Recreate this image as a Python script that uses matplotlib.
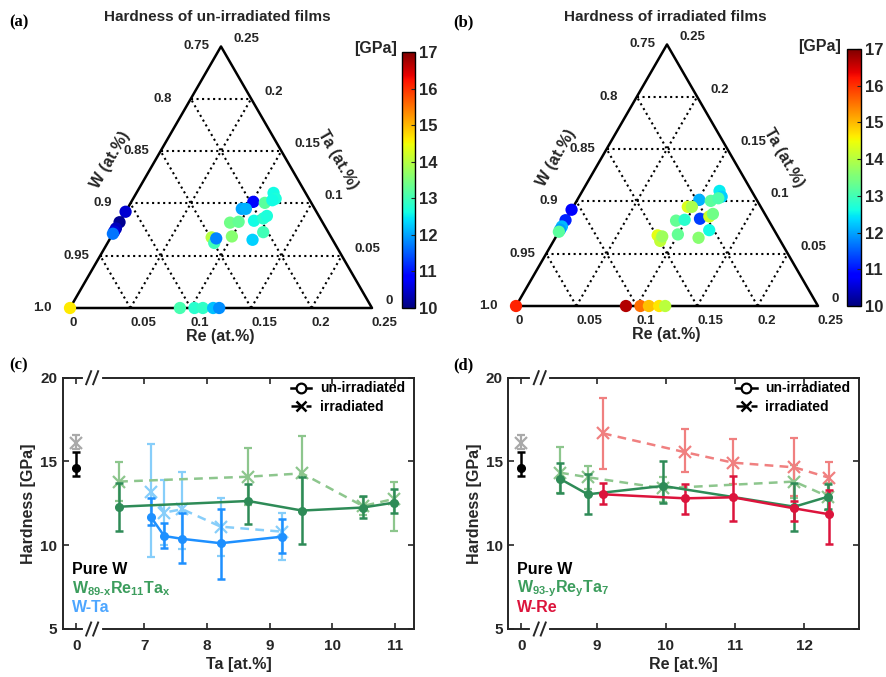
import numpy as np
import matplotlib.pyplot as plt
import matplotlib.transforms as mtransforms
from matplotlib import cm, colors
from matplotlib.lines import Line2D

plt.rcParams['font.family'] = ['Liberation Sans', 'DejaVu Sans']
plt.rcParams['font.weight'] = 'bold'
plt.rcParams['axes.labelweight'] = 'bold'
plt.rcParams['mathtext.fontset'] = 'custom'
plt.rcParams['mathtext.rm'] = 'Liberation Sans:bold'
plt.rcParams['mathtext.bf'] = 'Liberation Sans:bold'
plt.rcParams['mathtext.default'] = 'rm'

# ---------------- ternary data (atomic fractions, hardness in GPa) ----------------
pure_w_h = [14.63, 16.12]           # un-irradiated, irradiated

wta_ta = [0.092, 0.082, 0.076, 0.073, 0.071]
wta_h_un = [10.51, 10.12, 10.38, 10.55, 11.67]
wta_h_irr = [10.81, 11.11, 12.15, 11.95, 13.2]

wre_re = [0.091, 0.103, 0.110, 0.1185, 0.1235]
wre_h_un = [13.04, 12.8, 12.86, 12.2, 11.85]
wre_h_irr = [16.68, 15.55, 14.93, 14.65, 14.03]

tern_re = [0.101, 0.1135, 0.118, 0.111, 0.116, 0.0948, 0.0982, 0.0917, 0.0984,
           0.1106, 0.1172, 0.119, 0.1237, 0.1185, 0.0998, 0.0835, 0.0883, 0.0878]
tern_ta = [0.1015, 0.110, 0.1045, 0.1005, 0.103, 0.0948, 0.0948, 0.0816, 0.0824,
           0.0834, 0.0856, 0.088, 0.0725, 0.0652, 0.0684, 0.0675, 0.0622, 0.0665]
tern_h_un = [10.9, 12.6, 12.7, 13.2, 12.6, 12.0, 12.1, 13.4, 13.3,
             12.6, 12.8, 12.7, 13.0, 12.3, 13.6, 14.0, 13.0, 11.8]
tern_h_irr = [12.1, 12.5, 12.3, 13.2, 13.1, 14.3, 13.9, 13.3, 12.8,
              11.3, 14.2, 13.4, 12.6, 13.6, 13.3, 14.4, 14.1, 13.8]

# ---------------- panel (c): vs Ta ----------------
purew_un = 14.63
purew_un_err = [0.5, 0.95]
purew_irr = 16.12
purew_irr_err = [0.4, 0.46]

c_ta_ternary = [6.6, 8.66, 9.52, 10.49, 10.98]
c_tern_un = [12.3, 12.64, 12.07, 12.25, 12.54]
c_tern_un_lo = [1.43, 1.37, 1.99, 0.6, 0.59]
c_tern_un_hi = [1.43, 1.02, 2.02, 0.69, 0.82]
c_tern_irr = [13.8, 14.09, 14.29, 12.34, 12.76]
c_tern_irr_lo = [1.15, 1.7, 2.2, 0.55, 1.89]
c_tern_irr_hi = [1.15, 1.7, 2.23, 0.55, 1.0]

c_ta_wta = [7.11, 7.32, 7.61, 8.22, 9.2]
c_wta_un = [11.67, 10.55, 10.38, 10.12, 10.51]
c_wta_un_lo = [0.48, 0.73, 1.42, 2.15, 0.95]
c_wta_un_hi = [1.13, 0.75, 1.57, 2.03, 1.08]
c_wta_irr = [13.2, 11.95, 12.15, 11.11, 10.81]
c_wta_irr_lo = [3.88, 1.95, 2.35, 1.75, 1.7]
c_wta_irr_hi = [2.84, 1.95, 2.24, 1.69, 1.1]

# ---------------- panel (d): vs Re ----------------
d_re_ternary = [8.47, 8.87, 9.96, 11.86, 12.35]
d_tern_un = [13.96, 13.04, 13.54, 12.3, 12.9]
d_tern_un_lo = [0.86, 1.17, 1.0, 1.43, 0.75]
d_tern_un_hi = [0.97, 1.2, 1.51, 1.4, 0.75]
d_tern_irr = [14.33, 14.06, 13.4, 13.8, 12.9]
d_tern_irr_lo = [1.2, 0.7, 0.8, 1.0, 0.8]
d_tern_irr_hi = [1.55, 0.67, 0.66, 1.0, 0.8]

d_re_wre = [9.09, 10.28, 10.97, 11.86, 12.36]
d_wre_un = [13.04, 12.8, 12.86, 12.2, 11.85]
d_wre_un_lo = [0.58, 0.95, 1.39, 0.73, 1.79]
d_wre_un_hi = [0.7, 0.84, 1.29, 0.46, 1.45]
d_wre_irr = [16.68, 15.55, 14.93, 14.65, 14.03]
d_wre_irr_lo = [2.1, 1.16, 1.3, 1.7, 0.93]
d_wre_irr_hi = [2.09, 1.37, 1.39, 1.73, 0.92]

# ---------------- layout helpers ----------------
FW, FH = 886, 677
fig = plt.figure(figsize=(FW / 100, FH / 100), dpi=100)
SQ = np.sqrt(3) / 2
norm = colors.Normalize(10, 17)
cmap = plt.get_cmap('jet')
TXT = '#262626'


def px_axes(x0, y0, x1, y1):
    return fig.add_axes([x0 / FW, 1 - y1 / FH, (x1 - x0) / FW, (y1 - y0) / FH])


def tern_xy(re, ta):
    u = np.asarray(re) / 0.25
    v = np.asarray(ta) / 0.25
    return u + v / 2, v * SQ


def off(ax, dx, dy):
    return mtransforms.offset_copy(ax.transData, fig=fig, x=dx, y=dy, units='dots')


def draw_ternary(ax, h_pure, h_wta, h_wre, h_mid):
    ax.set_xlim(0, 1)
    ax.set_ylim(0, SQ)
    ax.axis('off')
    for k in range(1, 5):
        c = k / 5
        kw = dict(color='k', ls=':', lw=1.5, zorder=1)
        ax.plot([c / 2, 1 - c / 2], [c * SQ, c * SQ], **kw)
        ax.plot([c, c + (1 - c) / 2], [0, (1 - c) * SQ], **kw)
        ax.plot([c, c / 2], [0, c * SQ], **kw)
    ax.plot([0, 1, 0.5, 0], [0, 0, SQ, 0], color='k', lw=1.8, clip_on=False, zorder=2)

    w_lab = ['1.0', '0.95', '0.9', '0.85', '0.8', '0.75']
    ta_lab = ['0', '0.05', '0.1', '0.15', '0.2', '0.25']
    re_lab = ['0', '0.05', '0.1', '0.15', '0.2', '0.25']
    for k in range(6):
        v = k / 5
        ax.text(v / 2, v * SQ, w_lab[k], transform=off(ax, -37, 0), ha='left', va='center',
                fontsize=9.5, color=TXT)
        ax.text(1 - v / 2, v * SQ, ta_lab[k], transform=off(ax, 13, 7), ha='left', va='center',
                fontsize=9.5, color=TXT)
        ax.text(v, 0, re_lab[k], transform=off(ax, 0, -15), ha='left', va='center',
                fontsize=9.5, color=TXT)
    ax.text(0.132, 0.49, 'W (at.%)', rotation=60, ha='center', va='center', fontsize=11.5, color=TXT)
    ax.text(0.887, 0.49, 'Ta (at.%)', rotation=-60, ha='center', va='center', fontsize=11.5, color=TXT)
    ax.text(0.497, -0.096, 'Re (at.%)', ha='center', va='center', fontsize=11.5, color=TXT)

    kw = dict(cmap=cmap, norm=norm, s=78, edgecolors='none', clip_on=False, zorder=3)
    x, y = tern_xy([0], [0])
    ax.scatter(x, y, c=[h_pure], **kw)
    x, y = tern_xy(np.zeros(len(wta_ta)), wta_ta)
    ax.scatter(x, y, c=h_wta, **kw)
    x, y = tern_xy(wre_re, np.zeros(len(wre_re)))
    ax.scatter(x, y, c=h_wre, **kw)
    x, y = tern_xy(tern_re, tern_ta)
    ax.scatter(x, y, c=h_mid, **kw)


def draw_cbar(cax, xlab, ylab):
    sm = cm.ScalarMappable(norm=norm, cmap=cmap)
    cb = fig.colorbar(sm, cax=cax, ticks=range(10, 18))
    cb.outline.set_linewidth(1.0)
    cb.ax.tick_params(direction='in', length=3, labelsize=12, pad=3, colors=TXT)
    fig.text(xlab / FW, 1 - ylab / FH, '[GPa]', ha='center', va='center', fontsize=11.5, color=TXT)


# ---------------- panel (a) and (b) ----------------
ax_a = px_axes(70, 308 - 302 * SQ, 372, 308)
draw_ternary(ax_a, pure_w_h[0], wta_h_un, wre_h_un, tern_h_un)
draw_cbar(px_axes(402, 52, 415, 308), 376, 48)
fig.text(217 / FW, 1 - 17 / FH, 'Hardness of un-irradiated films', ha='center', va='center',
         fontsize=11, color=TXT)

ax_b = px_axes(516, 306 - 302 * SQ, 818, 306)
draw_ternary(ax_b, pure_w_h[1], wta_h_irr, wre_h_irr, tern_h_irr)
draw_cbar(px_axes(847, 49, 861, 306), 820, 46)
fig.text(665 / FW, 1 - 17 / FH, 'Hardness of irradiated films', ha='center', va='center',
         fontsize=11, color=TXT)

# ---------------- panels (c) and (d) ----------------
DG, LG = '#2e8b57', '#8dc68d'
BL, LB = '#1e90ff', '#87cefa'
RD, LR = '#dc143c', '#f08080'
DASH = (0, (3.5, 2.5))


def eb(ax, x, y, lo, hi, col, irr, z):
    if irr:
        ax.errorbar(x, y, yerr=[lo, hi], color=col, ls=DASH, marker='x', ms=8, mew=1.6,
                    lw=1.8, elinewidth=1.6, capsize=3, capthick=1.6, zorder=z)
    else:
        ax.errorbar(x, y, yerr=[lo, hi], color=col, ls='-', marker='o', ms=5.5,
                    lw=1.8, elinewidth=1.8, capsize=3, capthick=1.8, zorder=z)


def setup_line_axes(ax, xlim, wpos, ticks, brk, ppu, xlabel):
    ax.set_xlim(*xlim)
    ax.set_ylim(5, 20)
    ax.set_yticks([5, 10, 15, 20])
    ax.set_xticks([wpos] + ticks)
    ax.set_xticklabels(['0'] + [str(t) for t in ticks])
    ax.tick_params(direction='in', top=True, right=True, length=4, width=1.2,
                   labelsize=11, colors=TXT)
    ax.tick_params(axis='x', pad=7)
    ax.tick_params(axis='y', pad=4)
    for s in ax.spines.values():
        s.set_linewidth(1.4)
        s.set_color(TXT)
    ax.set_ylabel('Hardness [GPa]', fontsize=11.5, color=TXT, labelpad=3)
    ax.set_xlabel(xlabel, fontsize=11.5, color=TXT, labelpad=3)
    tr = mtransforms.blended_transform_factory(ax.transData, ax.transAxes)
    hh = 6.5 / 251.3
    for yb in (0, 1):
        ax.plot([brk - 7.5 / ppu, brk + 7.5 / ppu], [yb, yb], color='white', lw=3,
                transform=tr, clip_on=False, zorder=6)
        for a in (-6, 1):
            ax.plot([brk + a / ppu, brk + (a + 5) / ppu], [yb - hh, yb + hh], color=TXT,
                    lw=1.4, transform=tr, clip_on=False, zorder=7)
    handles = [Line2D([], [], color='k', ls='-', marker='o', mfc='white', mec='k', ms=7,
                      mew=1.6, lw=1.8),
               Line2D([], [], color='k', ls=DASH, marker='x', ms=7, mew=1.8, lw=1.8)]
    ax.legend(handles, ['un-irradiated', 'irradiated'], loc='upper left',
              bbox_to_anchor=(0.648, 0.985), frameon=False, fontsize=10, handlelength=1.5,
              handletextpad=0.6, borderpad=0, labelspacing=0.3, borderaxespad=0)


def pure_w(ax, wpos):
    ax.errorbar([wpos], [purew_irr], yerr=[[purew_irr_err[0]], [purew_irr_err[1]]], color='#a9a9a9',
                marker='x', ms=8, mew=1.6, elinewidth=1.6, capsize=3, capthick=1.6, zorder=3)
    ax.errorbar([wpos], [purew_un], yerr=[[purew_un_err[0]], [purew_un_err[1]]], color='k',
                marker='o', ms=5.5, elinewidth=1.8, capsize=3, capthick=1.8, zorder=4)


# (c)
ax_c = px_axes(62.7, 377.7, 414.3, 629)
c_wpos = 5.92
setup_line_axes(ax_c, (5.7, 11.31), c_wpos, [7, 8, 9, 10, 11], 6.17, 62.7, 'Ta [at.%]')
eb(ax_c, c_ta_ternary, c_tern_irr, c_tern_irr_lo, c_tern_irr_hi, LG, True, 2)
eb(ax_c, c_ta_wta, c_wta_irr, c_wta_irr_lo, c_wta_irr_hi, LB, True, 2)
eb(ax_c, c_ta_ternary, c_tern_un, c_tern_un_lo, c_tern_un_hi, DG, False, 3)
eb(ax_c, c_ta_wta, c_wta_un, c_wta_un_lo, c_wta_un_hi, BL, False, 3)
pure_w(ax_c, c_wpos)
ax_c.text(0.026, 0.238, 'Pure W', transform=ax_c.transAxes, fontsize=11.5, color='k', va='center')
ax_c.text(0.026, 0.162, r'W$_{89\text{-}x}$Re$_{11}$Ta$_{x}$', transform=ax_c.transAxes,
          fontsize=11.5, color='#3c9d5d', va='center')
ax_c.text(0.026, 0.086, 'W-Ta', transform=ax_c.transAxes, fontsize=11.5, color='#4da6ff', va='center')

# (d)
ax_d = px_axes(508.3, 377.7, 859.3, 629)
d_wpos = 7.91
setup_line_axes(ax_d, (7.72, 12.8), d_wpos, [9, 10, 11, 12], 8.175, 69.2, 'Re [at.%]')
eb(ax_d, d_re_ternary, d_tern_irr, d_tern_irr_lo, d_tern_irr_hi, LG, True, 2)
eb(ax_d, d_re_wre, d_wre_irr, d_wre_irr_lo, d_wre_irr_hi, LR, True, 2)
eb(ax_d, d_re_ternary, d_tern_un, d_tern_un_lo, d_tern_un_hi, DG, False, 3)
eb(ax_d, d_re_wre, d_wre_un, d_wre_un_lo, d_wre_un_hi, RD, False, 3)
pure_w(ax_d, d_wpos)
ax_d.text(0.026, 0.238, 'Pure W', transform=ax_d.transAxes, fontsize=11.5, color='k', va='center')
ax_d.text(0.026, 0.162, r'W$_{93\text{-}y}$Re$_{y}$Ta$_{7}$', transform=ax_d.transAxes,
          fontsize=11.5, color='#3c9d5d', va='center')
ax_d.text(0.026, 0.086, 'W-Re', transform=ax_d.transAxes, fontsize=11.5, color=RD, va='center')

# panel letters
for lab, x, y in [('(a)', 9, 22), ('(b)', 453, 22), ('(c)', 9, 365), ('(d)', 453, 365)]:
    fig.text(x / FW, 1 - y / FH, lab, family='Liberation Serif', fontweight='bold',
             fontsize=12, ha='left', va='center')

fig.savefig('out.png', dpi=100)
